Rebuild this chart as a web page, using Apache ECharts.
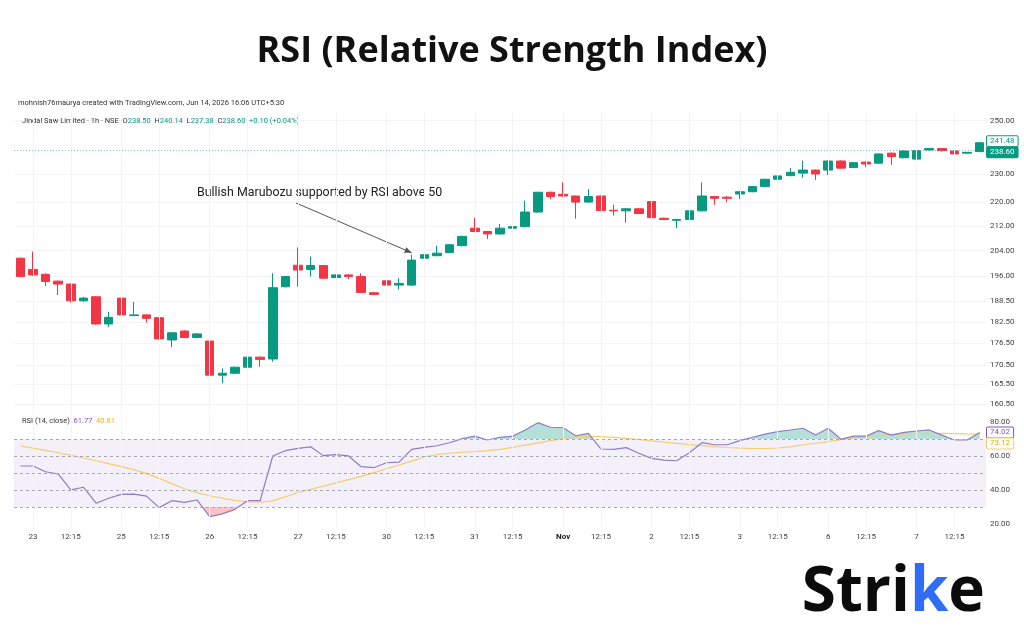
<!DOCTYPE html>
<html><head><meta charset="utf-8">
<script src="https://cdn.jsdelivr.net/npm/echarts@6/dist/echarts.min.js"></script>
<style>html,body{margin:0;padding:0;background:#fff}#c{width:1024px;height:640px}</style>
</head><body><div id="c"></div><script>
// ---- data ----
const days = ['20','23','25','26','27','30','31','Nov','2','3','6','7'];
const sessionHours = ['9:15','10:15','11:15','12:15','13:15','14:15','15:15'];
const opens = [201.6,198.1,196.6,194.5,193.6,188.6,189.8,181.9,189.4,184.3,
  184.5,183.7,177.4,179.9,178.1,177.1,167.9,168.4,170.0,172.7,
  172.2,192.8,199.4,198.1,199.3,195.6,196.4,195.9,191.0,194.6,
  193.3,193.3,201.6,202.4,203.4,205.6,211.3,210.2,209.4,211.3,
  211.8,216.7,223.5,222.8,222.2,220.1,222.2,217.3,217.1,217.8,
  220.3,214.6,213.9,214.2,217.1,222.0,221.8,222.9,223.7,225.5,
  228.1,229.4,230.3,231.4,231.4,234.7,232.3,234.3,233.9,237.6,
  235.9,235.4,238.8,239.3,238.4,237.6,238.2];
const closes = [195.9,196.4,194.4,193.6,188.6,189.4,181.9,183.8,184.5,184.5,
  183.5,177.7,179.4,178.1,179.1,167.9,168.4,170.0,172.7,172.1,
  192.5,195.9,197.9,199.3,195.4,196.4,195.9,191.1,190.5,193.3,
  193.8,201.0,202.7,203.2,205.9,208.6,210.2,209.4,211.3,211.8,
  216.7,223.5,222.0,222.2,220.1,222.0,217.2,217.1,217.8,216.2,
  214.8,214.2,214.2,217.1,222.2,221.4,221.4,223.7,225.5,228.1,
  229.3,230.6,231.4,230.0,234.7,232.1,234.1,233.6,237.3,236.3,
  238.4,238.5,239.3,238.5,237.3,237.9,241.5];
const lows = [195.7,196.1,193.0,190.3,188.1,188.3,181.7,181.0,174.8,184.2,
  182.3,177.5,175.4,177.9,177.9,164.9,165.8,168.2,168.8,170.1,
  171.5,192.6,192.8,195.9,195.2,195.4,195.1,190.9,190.3,190.3,
  192.0,193.1,201.4,202.2,203.2,205.4,210.0,207.7,209.2,210.5,
  211.6,216.5,221.1,222.0,214.5,219.9,217.0,215.5,213.1,216.0,
  214.6,214.0,211.3,213.3,216.9,219.2,220.0,221.1,223.5,225.3,
  227.9,229.2,228.7,227.8,229.6,231.9,232.1,232.4,233.7,233.3,
  235.7,235.2,238.6,238.3,237.1,237.4,238.0];
const highs = [201.8,203.7,196.8,194.7,193.8,189.8,190.0,185.4,189.6,188.3,
  184.7,183.9,179.6,180.1,179.3,177.3,169.7,170.2,172.9,172.9,
  196.9,196.1,205.0,202.1,199.5,196.6,196.6,196.9,191.2,196.9,
  195.4,202.7,206.9,205.6,206.1,208.8,214.8,210.4,212.7,212.0,
  220.6,223.7,223.7,227.0,222.4,224.6,222.4,219.2,218.0,218.0,
  222.9,214.8,214.4,217.3,227.0,222.2,222.2,223.9,225.7,228.3,
  230.3,232.1,234.8,231.6,234.9,234.9,234.3,234.5,237.5,237.8,
  238.6,240.4,239.5,239.5,238.6,238.1,241.7];
const rsi = [54.3,54.3,50.9,49.6,40.2,41.8,32.4,35.3,37.6,37.8,
  36.6,29.8,33.9,32.9,34.3,24.5,26.1,28.8,33.9,33.9,
  60.2,63.3,64.7,65.6,60.4,61.0,60.2,53.9,53.3,56.2,
  56.6,64.1,65.3,66.2,68.0,70.4,71.9,69.6,71.2,71.9,
  75.5,79.8,77.1,76.8,72.1,73.5,64.3,64.1,65.1,61.8,
  58.8,57.8,57.4,62.1,68.0,66.8,66.8,69.2,71.2,73.1,
  74.5,75.5,76.5,72.5,76.5,70.0,71.9,71.9,75.1,72.5,
  74.1,74.9,75.5,72.5,69.6,69.6,74.0];
const rsiMa = [66.1,64.8,63.5,62.1,60.6,59.0,57.4,55.7,53.9,52.2,
  49.8,47.0,43.9,40.9,38.6,36.8,35.3,34.1,33.2,33.0,
  33.8,36.2,38.6,40.6,42.5,44.4,46.3,48.2,50.4,52.6,
  54.9,57.2,59.6,61.0,61.8,62.4,62.8,63.4,64.1,65.3,
  66.6,67.9,69.2,70.4,71.4,71.8,71.6,71.2,70.6,69.9,
  69.1,68.3,67.6,66.9,66.3,65.7,65.2,64.8,64.6,64.6,
  64.9,65.5,66.8,67.7,68.6,69.8,70.8,71.6,72.4,72.9,
  73.2,73.4,73.5,73.5,73.4,73.2,73.1];
const priceTicks = [160.5,165.5,170.5,176.5,182.5,188.5,196,204,212,220,230,250];
const rsiTicks = [20,40,60,80];
const rsiLevels = [70,60,50,40,30];
const lastPrice = 238.60;
const prevPrice = 241.48;
const rsiLast = 74.02;
const rsiMaLast = 73.12;

// ---- categories ----
const categories = [];
days.forEach(d => sessionHours.forEach(h => {
  if (d === '20' && h !== '15:15') return;
  if (d === '7' && h === '15:15') return;
  categories.push(d + ' ' + h);
}));
const isLabeled = (v) => { const p = v.split(' '); return p[1] === '9:15' || p[1] === '12:15'; };
const labelOf = (v) => { const p = v.split(' '); if (p[1] === '9:15') return p[0] === 'Nov' ? '{b|Nov}' : p[0]; return p[1]; };
const gridCats = categories.filter(isLabeled);

const UP = '#089981', DN = '#f23645';
const FONT = 'Roboto';
const chart = echarts.init(document.getElementById('c'), null, {renderer: 'canvas'});

const option = {
  backgroundColor: '#fff',
  animation: false,
  grid: [
    {left: 14, right: 38, top: 112, height: 300},
    {left: 14, right: 38, top: 414, height: 113}
  ],
  xAxis: [
    {type: 'category', gridIndex: 0, data: categories, boundaryGap: true,
      axisLine: {show: false}, axisTick: {show: false}, axisLabel: {show: false}, splitLine: {show: false}},
    {type: 'category', gridIndex: 1, data: categories, boundaryGap: true,
      axisLine: {show: false}, axisTick: {show: false}, splitLine: {show: false},
      axisLabel: {interval: (i, v) => isLabeled(v), formatter: labelOf, fontSize: 8, fontFamily: FONT,
        color: '#444', margin: 6, rich: {b: {fontWeight: 'bold', fontSize: 8, fontFamily: FONT, color: '#222'}}}}
  ],
  yAxis: [
    {type: 'log', logBase: 10, gridIndex: 0, position: 'right', min: 158.5, max: 253.4,
      axisLine: {show: false}, axisTick: {show: false, customValues: priceTicks},
      axisLabel: {customValues: priceTicks, formatter: v => v.toFixed(2), fontSize: 8, fontFamily: FONT, color: '#444', margin: 4},
      splitLine: {show: true, lineStyle: {color: '#f2f4f8', width: 1}}},
    {type: 'value', gridIndex: 1, position: 'right', min: 18.4, max: 84.9,
      axisLine: {show: false}, axisTick: {show: false, customValues: rsiTicks},
      axisLabel: {customValues: rsiTicks, formatter: v => v.toFixed(2), fontSize: 8, fontFamily: FONT, color: '#444', margin: 4},
      splitLine: {show: false}}
  ],
  visualMap: [{
    show: false, type: 'piecewise', seriesIndex: 1, dimension: 1,
    pieces: [
      {gt: 70, color: 'rgba(8,153,129,0.30)'},
      {gte: 30, lte: 70, color: 'rgba(255,255,255,0)'},
      {lt: 30, color: 'rgba(242,54,69,0.30)'}
    ]
  }],
  series: [
    {name: 'price', type: 'candlestick', xAxisIndex: 0, yAxisIndex: 0, barWidth: 9,
      data: opens.map((o, i) => [o, closes[i], lows[i], highs[i]]),
      itemStyle: {color: UP, color0: DN, borderColor: UP, borderColor0: DN, borderWidth: 1},
      markLine: {silent: true, symbol: 'none', label: {show: false},
        data: [
          ...gridCats.map(x => ({xAxis: x, lineStyle: {color: '#f2f4f8', width: 1, type: 'solid'}})),
          {yAxis: lastPrice, lineStyle: {color: 'rgba(8,153,129,0.55)', width: 1, type: [1, 2]}}
        ]}},
    {name: 'rsiFill', type: 'line', xAxisIndex: 1, yAxisIndex: 1, data: rsi, symbol: 'none', silent: true,
      lineStyle: {width: 0, opacity: 0}, areaStyle: {origin: 70, opacity: 1}, z: 1},
    {name: 'RSI', type: 'line', xAxisIndex: 1, yAxisIndex: 1, data: rsi, symbol: 'none', silent: true,
      lineStyle: {color: '#8f7cc8', width: 1.2}, z: 4,
      markArea: {silent: true, itemStyle: {color: 'rgba(126,87,194,0.09)'}, data: [[{yAxis: 70}, {yAxis: 30}]]},
      markLine: {silent: true, symbol: 'none', label: {show: false},
        data: [
          ...gridCats.map(x => ({xAxis: x, lineStyle: {color: '#f2f4f8', width: 1, type: 'solid'}})),
          ...rsiLevels.map(v => ({yAxis: v, lineStyle: {color: '#a6a8b3', width: 1, type: [3, 3]}}))
        ]}},
    {name: 'RSI MA', type: 'line', xAxisIndex: 1, yAxisIndex: 1, data: rsiMa, symbol: 'none', silent: true,
      lineStyle: {color: '#f6cd6e', width: 1.2}, z: 3}
  ]
};
chart.setOption(option);

// ---- annotations & labels ----
const px = (gi, cat, v) => chart.convertToPixel({xAxisIndex: gi, yAxisIndex: gi}, [cat, v]);
const yOf = (gi, v) => chart.convertToPixel({yAxisIndex: gi}, v);
const axisX = 1024 - 38 + 1;

let yLast = yOf(0, lastPrice), yPrev = yOf(0, prevPrice);
if (yLast - yPrev < 11) { const m = (yLast + yPrev) / 2; yPrev = m - 5.5; yLast = m + 5.5; }
let yR = yOf(1, rsiLast), yM = yOf(1, rsiMaLast);
if (yM - yR < 11) { yM = yR + 11; }

const tip = px(0, categories[31], highs[31]);
const sx = 296, sy = 203;
const ex = tip[0], ey = tip[1] - 2;
const ang = Math.atan2(ey - sy, ex - sx);
const L = 7, W = 3;
const head = [[ex, ey],
  [ex - L * Math.cos(ang) - W * Math.sin(ang), ey - L * Math.sin(ang) + W * Math.cos(ang)],
  [ex - L * Math.cos(ang) + W * Math.sin(ang), ey - L * Math.sin(ang) - W * Math.cos(ang)]];

const box = (y, text, fill, stroke, color) => ({type: 'text', x: axisX, y: y, z: 50,
  style: {text: text, fill: color, fontSize: 8, fontFamily: FONT, verticalAlign: 'middle', align: 'left',
    backgroundColor: fill, borderColor: stroke, borderWidth: 1, padding: [1, 3, 1, 3], borderRadius: 1}});

chart.setOption({graphic: [
  {type: 'text', x: 512, y: 52, style: {text: 'RSI (Relative Strength Index)', fill: '#111', fontSize: 36,
    fontWeight: 'bold', fontFamily: 'Open Sans', align: 'center', verticalAlign: 'middle'}},
  {type: 'text', x: 18, y: 103, style: {text: 'mohnish76maurya created with TradingView.com, Jun 14, 2026 16:06 UTC+5:30',
    fill: '#333', fontSize: 7.5, fontFamily: FONT, verticalAlign: 'middle'}},
  {type: 'text', x: 22, y: 121, style: {
    text: '{d|Jindal Saw Limited · 1h · NSE}  {d|O}{g|238.50}  {d|H}{g|240.14}  {d|L}{g|237.38}  {d|C}{g|238.60}  {g|+0.10 (+0.04%)}',
    verticalAlign: 'middle', fontSize: 7.5, fontFamily: FONT,
    rich: {d: {fill: '#333', fontSize: 7.5, fontFamily: FONT}, g: {fill: UP, fontSize: 7.5, fontFamily: FONT}}}},
  {type: 'text', x: 22, y: 421, style: {
    text: '{d|RSI (14, close)}  {p|61.77}  {y|40.81}', verticalAlign: 'middle', fontSize: 7.5, fontFamily: FONT,
    rich: {d: {fill: '#333', fontSize: 7.5, fontFamily: FONT}, p: {fill: '#7e57c2', fontSize: 7.5, fontFamily: FONT},
      y: {fill: '#f0b400', fontSize: 7.5, fontFamily: FONT}}}},
  {type: 'text', x: 197, y: 193, style: {text: 'Bullish Marubozu supported by RSI above 50', fill: '#222', fontSize: 12.4,
    fontFamily: FONT, verticalAlign: 'middle'}},
  {type: 'line', shape: {x1: sx, y1: sy, x2: ex, y2: ey}, style: {stroke: '#555', lineWidth: 1}},
  {type: 'polygon', shape: {points: head}, style: {fill: '#555'}},
  box(yPrev, prevPrice.toFixed(2), '#fff', UP, UP),
  box(yLast, lastPrice.toFixed(2), UP, UP, '#fff'),
  box(yR, rsiLast.toFixed(2), '#fff', '#7e57c2', '#7e57c2'),
  box(yM, rsiMaLast.toFixed(2), '#fff', '#f6cd6e', '#e0b000'),
  {type: 'text', x: 985, y: 593, style: {text: '{k|Stri}{b|k}{k|e}', align: 'right', verticalAlign: 'middle',
    rich: {k: {fill: '#0b0b0b', fontSize: 62, fontWeight: 'bold', fontFamily: 'Open Sans'},
      b: {fill: '#2f6df6', fontSize: 62, fontWeight: 'bold', fontFamily: 'Open Sans'}}}}
]});
</script></body></html>
